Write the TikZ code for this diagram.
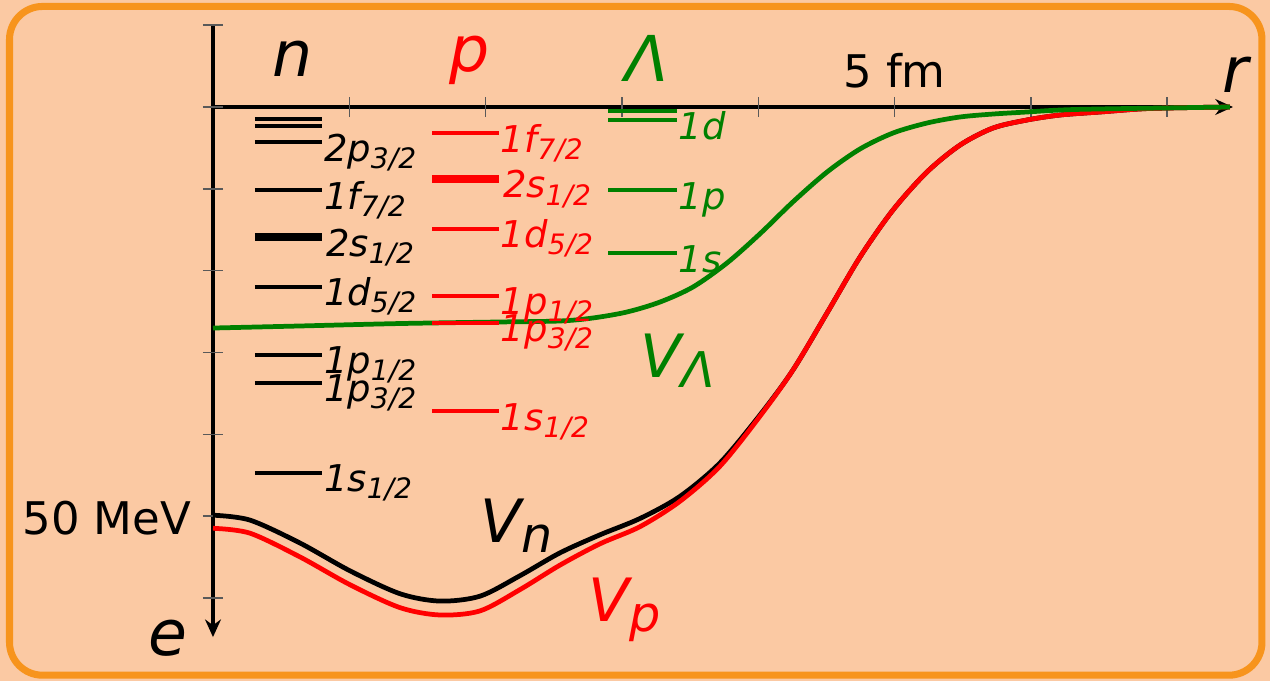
\documentclass[tikz,border=0pt]{standalone}
\usepackage{fontspec}
\setmainfont{DejaVu Sans}
\usetikzlibrary{arrows.meta}

\definecolor{peach}{RGB}{251,201,163}
\definecolor{frame}{RGB}{247,148,29}
\definecolor{lgreen}{RGB}{0,128,0}

% niveau avec indice (2p_{3/2})
\newcommand{\lvl}[2]{#1\raisebox{-2pt}{\fontsize{8}{9}\selectfont #2}}
% potentiel avec indice (V_n)
\newcommand{\pot}[2]{#1\raisebox{-2.8pt}{\fontsize{14}{16}\selectfont #2}}

\begin{document}
\begin{tikzpicture}[x=1.363cm, y=-0.0818cm]
  % Styles
  \tikzset{
    axe/.style={line width=1.1pt, -{Stealth[length=5pt, width=4.5pt]}},
    tick/.style={line width=0.4pt, color=black!65},
    lev/.style={line width=1.15pt},
    levthick/.style={line width=2.3pt},
    lab/.style={anchor=base west, inner sep=0pt, yshift=-0.19cm,
      font=\fontsize{10.5}{12}\selectfont\itshape},
    big/.style={anchor=base, inner sep=0pt, font=\fontsize{18}{20}\selectfont\itshape},
    unit/.style={inner sep=0pt, font=\fontsize{12.8}{15}\selectfont},
    potlab/.style={anchor=base west, inner sep=0pt, font=\fontsize{17}{20}\selectfont\itshape},
    pot/.style={line width=1.35pt},
  }

  % Fond et cadre
  \useasboundingbox (-1.5627,-13.08) rectangle (7.7549,70.17);
  \fill[peach] (-1.5627,-13.08) rectangle (7.7549,70.17);
  \draw[frame, line width=2pt, rounded corners=0.33cm] (-1.493,-12.29) rectangle (7.696,69.46);

  % Axes
  \draw[axe] (0,-9.9) -- (0,64.8);
  \draw[axe] (0,0) -- (7.483,0);

  % Graduations
  \foreach \x in {1,...,7}
    \draw[tick] (\x,0) +(0,-0.1cm) -- +(0,0.1cm);
  \foreach \y in {-10,0,...,60}
    \draw[tick] (0,\y) +(-0.1cm,0) -- +(0.1cm,0);

  % Titres des axes
  \node[big] (hn) at (0.587,-3.67) {n};
  \node[big, red] (hp) at (1.886,-4.28) {p};
  \node[big, lgreen] (hl) at (3.184,-3.06) {Λ};
  \node[unit, anchor=base] (fm) at (5,-2.44) {5 fm};
  \node[big] (r) at (7.50,-1.83) {r};
  \node[unit, anchor=east] (mev) at (-0.154,50.2) {50 MeV};
  \node[big] (e) at (-0.33,67.0) {e};

  % Potentiels
  \draw[pot] plot[smooth] coordinates {
    (0,49.9) (0.271,50.5) (0.638,53.3) (1.005,56.7) (1.372,59.5)
    (1.665,60.4) (1.959,59.8) (2.252,57.3) (2.546,54.5) (2.839,52.3)
    (3.133,50.3) (3.426,47.6) (3.720,43.5) (4.013,37.65) (4.255,32.15)
    (4.505,25.18) (4.747,18.34) (4.989,12.59) (5.238,7.95) (5.481,4.65)
    (5.723,2.57) (5.972,1.59) (6.214,0.98) (6.508,0.61) (6.874,0.18)
    (7.46,0)
  };
  \draw[pot, red] plot[smooth] coordinates {
    (0,51.5) (0.271,52.1) (0.638,55.0) (1.005,58.4) (1.372,61.2)
    (1.665,62.1) (1.959,61.6) (2.252,59.0) (2.546,56.0) (2.839,53.4)
    (3.133,51.3) (3.426,48.2) (3.720,43.9) (4.013,37.8) (4.255,32.15)
    (4.505,25.18) (4.747,18.34) (4.989,12.59) (5.238,7.95) (5.481,4.65)
    (5.723,2.57) (5.972,1.59) (6.214,0.98) (6.508,0.61) (6.874,0.18)
    (7.46,0)
  };
  \draw[pot, lgreen] plot[smooth] coordinates {
    (0,27.02) (0.638,26.77) (1.372,26.47) (2.106,26.28) (2.546,26.16)
    (2.788,25.79) (3.037,25.06) (3.280,23.84) (3.522,22.0) (3.771,19.07)
    (4.013,15.5) (4.255,11.6) (4.505,7.95) (4.747,5.13) (4.989,3.18)
    (5.238,1.96) (5.481,1.22) (5.723,0.86) (5.972,0.61) (6.214,0.37)
    (6.508,0.24) (7.46,0)
  };
  \node[potlab] (vn) at (1.96,53.2) {\pot{V}{n}};
  \node[potlab, red] (vp) at (2.75,62.9) {\pot{V}{p}};
  \node[potlab, lgreen] (vl) at (3.13,33.1) {\pot{V}{Λ}};

  % Niveaux des neutrons
  \foreach \e/\s/\j/\w [count=\i] in {
    1.47/{}/{}/lev,
    2.32/{}/{}/lev,
    4.28/2p/3\slash 2/lev,
    10.15/1f/7\slash 2/lev,
    15.9/2s/1\slash 2/levthick,
    22.0/1d/5\slash 2/lev,
    30.3/1p/1\slash 2/lev,
    33.7/1p/3\slash 2/lev,
    44.7/1s/1\slash 2/lev%
  }{
    \draw[\w] (0.308,\e) -- (0.80,\e) node[lab] (nl\i) {\lvl{\s}{\j}};
  }

  % Niveaux des protons
  \foreach \e/\s/\j/\w [count=\i] in {
    3.18/1f/7\slash 2/lev,
    8.8/2s/1\slash 2/levthick,
    14.9/1d/5\slash 2/lev,
    23.1/1p/1\slash 2/lev,
    26.4/1p/3\slash 2/lev,
    37.2/1s/1\slash 2/lev%
  }{
    \draw[\w, red] (1.607,\e) -- (2.098,\e) node[lab] (pl\i) {\lvl{\s}{\j}};
  }

  % Niveaux du Lambda
  \foreach \e/\s [count=\i] in {
    0.49/{},
    1.6/1d,
    10.15/1p,
    17.85/1s%
  }{
    \draw[lev, lgreen] (2.898,\e) -- (3.404,\e) node[lab] (ll\i) {\s};
  }

\end{tikzpicture}
\end{document}
